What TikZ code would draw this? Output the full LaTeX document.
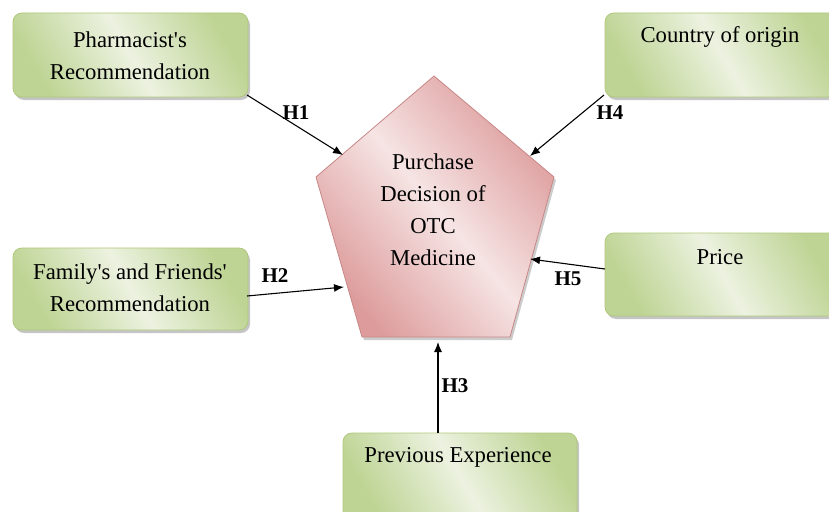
\documentclass[tikz,border=0pt]{standalone}
\usepackage{fontspec}
\setmainfont{Liberation Serif}[Ligatures=TeXOff]
\usetikzlibrary{arrows.meta,shadows}
\definecolor{gdark}{RGB}{190,212,148}
\definecolor{glight}{RGB}{236,242,224}
\definecolor{gborder}{RGB}{175,200,125}
\definecolor{pdark}{RGB}{221,155,155}
\definecolor{plight}{RGB}{246,228,228}
\definecolor{pborder}{RGB}{200,135,135}
\tikzset{
  boxstyle/.style={draw=gborder, line width=0.8pt, rounded corners=9pt,
    top color=gdark, bottom color=gdark, middle color=glight, shading angle=-60,
    drop shadow={shadow xshift=2pt, shadow yshift=-3pt, fill=black!45, opacity=0.5}},
  pentstyle/.style={draw=pborder, line width=0.8pt,
    top color=pdark, bottom color=pdark, middle color=plight, shading angle=-50,
    drop shadow={shadow xshift=2pt, shadow yshift=-3pt, fill=black!40, opacity=0.5}},
  txt/.style={align=center, font=\fontsize{22.7}{32}\selectfont, inner sep=0pt},
  hlab/.style={font=\fontsize{21}{24}\selectfont\bfseries, inner sep=0pt},
  arr/.style={-{Latex[length=10pt,width=8pt]}, line width=1.1pt, black}
}
\begin{document}
\begin{tikzpicture}[x=1pt,y=-1pt]
\useasboundingbox (0,0) rectangle (829,511);
\clip (0,0) rectangle (829,511);
% boxes
\path[boxstyle] (13,13) rectangle (248,97);
\path[boxstyle] (605,13) rectangle (840,97);
\path[boxstyle] (13,248) rectangle (248,330);
\path[boxstyle] (605,233) rectangle (840,316);
\path[boxstyle] (343,433) rectangle (577,520);
% pentagon
\coordinate (pa) at (434,76);
\coordinate (pr) at (554,177);
\coordinate (pbr) at (510,337);
\coordinate (pbl) at (362,337);
\coordinate (pl) at (316,177);
\path[pentstyle] (pa) -- (pr) -- (pbr) -- (pbl) -- (pl) -- cycle;
% texts
\node[txt] (pharm) at (130,56) {Pharmacist's\\Recommendation};
\node[txt] (country) at (720,37) {Country of origin};
\node[txt] (family) at (130,288) {Family's and Friends'\\Recommendation};
\node[txt] (price) at (720,257) {Price};
\node[txt] (prev) at (458,457) {Previous Experience};
\node[txt] (center) at (433,210) {Purchase\\Decision of\\OTC\\Medicine};
% connector endpoints
\coordinate (s1) at (247,95);
\coordinate (e1) at (343,155);
\coordinate (s4) at (604,95);
\coordinate (e4) at (530,156);
\coordinate (s2) at (247,296);
\coordinate (e2) at (344,287);
\coordinate (s5) at (605,269);
\coordinate (e5) at (530,259);
\coordinate (s3) at (438,433);
\coordinate (e3) at (438,342);
\draw[arr] (s1) -- (e1);
\draw[arr] (s4) -- (e4);
\draw[arr] (s2) -- (e2);
\draw[arr] (s5) -- (e5);
\draw[arr] (s3) -- (e3);
% labels
\node[hlab] (h1) at (296,113) {H1};
\node[hlab] (h2) at (275,276) {H2};
\node[hlab] (h3) at (455,386) {H3};
\node[hlab] (h4) at (610,113) {H4};
\node[hlab] (h5) at (568,279) {H5};
\end{tikzpicture}
\end{document}
